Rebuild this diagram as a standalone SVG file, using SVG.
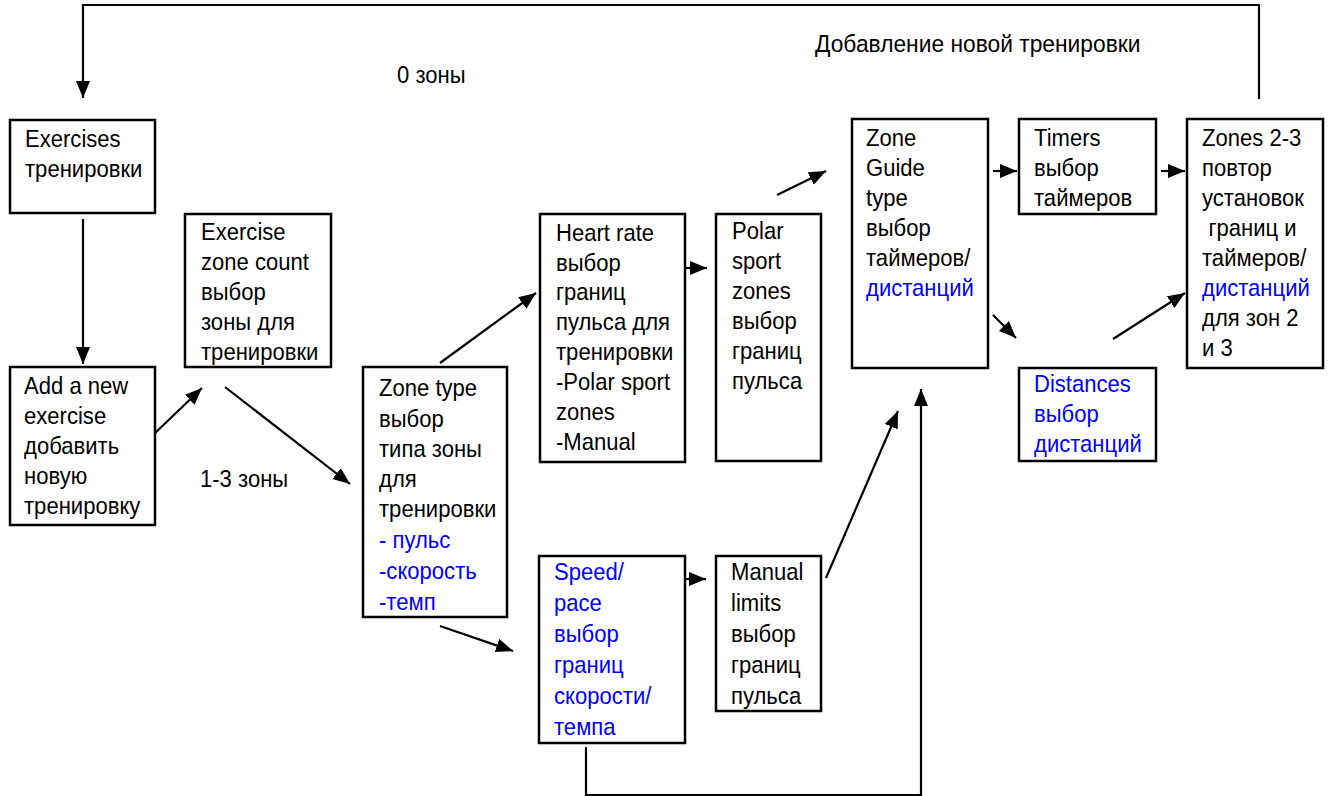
<svg xmlns="http://www.w3.org/2000/svg" width="1330" height="796" viewBox="0 0 1330 796">
<defs>
<marker id="ah" markerUnits="userSpaceOnUse" markerWidth="18" markerHeight="15" refX="17" refY="7" orient="auto">
<path d="M0,0 L17,7 L0,14 z" fill="#000"/>
</marker>
<style>
rect{fill:#fff;stroke:#000;stroke-width:2.5}
text{font-family:"Liberation Sans",Arial,sans-serif;font-size:24px;fill:#000}
.b{fill:#0000ff}
.c line,.c path{stroke:#000;stroke-width:2.2;fill:none}
.a{marker-end:url(#ah)}
</style>
</defs>
<rect x="0" y="0" width="1330" height="796" style="fill:#fff;stroke:none"/>
<g class="c" id="connectors">
<path class="a" d="M1259,99 V5 H83 V98"/>
<line class="a" x1="83" y1="219" x2="83" y2="364"/>
<line class="a" x1="153" y1="435" x2="202" y2="388"/>
<line class="a" x1="225" y1="387" x2="350" y2="484"/>
<line class="a" x1="440" y1="363" x2="536" y2="293"/>
<line class="a" x1="440" y1="626" x2="513" y2="651"/>
<line class="a" x1="681" y1="268" x2="707" y2="268"/>
<line class="a" x1="680" y1="579" x2="706" y2="579"/>
<line class="a" x1="777" y1="195" x2="826" y2="171"/>
<line class="a" x1="826" y1="578" x2="898" y2="411"/>
<path class="a" d="M586,747 V795 H921 V389"/>
<line class="a" x1="993" y1="171" x2="1017" y2="171"/>
<line class="a" x1="1161" y1="171" x2="1185" y2="171"/>
<line class="a" x1="993" y1="315" x2="1016" y2="338"/>
<line class="a" x1="1113" y1="339" x2="1185" y2="293"/>
</g>
<g id="labels">
<g transform="translate(815,0) scale(0.95,1)"><text x="0" y="52">Добавление новой тренировки</text></g>
<g transform="translate(397,0) scale(0.92,1)"><text x="0" y="83">0 зоны</text></g>
<g transform="translate(200,0) scale(0.92,1)"><text x="0" y="487">1-3 зоны</text></g>
</g>
<g id="n-exercises">
<rect x="10" y="120" width="145" height="93"/>
<g transform="translate(25,0) scale(0.92,1)">
<text x="0" y="147">Exercises</text>
<text x="0" y="177">тренировки</text>
</g>
</g>
<g id="n-add">
<rect x="10" y="367" width="145" height="158"/>
<g transform="translate(24,0) scale(0.92,1)">
<text x="0" y="394">Add a new</text>
<text x="0" y="424">exercise</text>
<text x="0" y="454">добавить</text>
<text x="0" y="484">новую</text>
<text x="0" y="514">тренировку</text>
</g>
</g>
<g id="n-zonecount">
<rect x="185" y="214" width="146" height="153"/>
<g transform="translate(201,0) scale(0.92,1)">
<text x="0" y="240">Exercise</text>
<text x="0" y="270">zone count</text>
<text x="0" y="300">выбор</text>
<text x="0" y="330">зоны для</text>
<text x="0" y="360">тренировки</text>
</g>
</g>
<g id="n-zonetype">
<rect x="363" y="367" width="144" height="250"/>
<g transform="translate(379,0) scale(0.92,1)">
<text x="0" y="396">Zone type</text>
<text x="0" y="427">выбор</text>
<text x="0" y="457">типа зоны</text>
<text x="0" y="487">для</text>
<text x="0" y="517">тренировки</text>
<text x="0" y="548" class="b">- пульс</text>
<text x="0" y="579" class="b">-скорость</text>
<text x="0" y="610" class="b">-темп</text>
</g>
</g>
<g id="n-heartrate">
<rect x="540" y="214" width="145" height="248"/>
<g transform="translate(556,0) scale(0.92,1)">
<text x="0" y="241">Heart rate</text>
<text x="0" y="271">выбор</text>
<text x="0" y="300">границ</text>
<text x="0" y="330">пульса для</text>
<text x="0" y="360">тренировки</text>
<text x="0" y="390">-Polar sport</text>
<text x="0" y="420">zones</text>
<text x="0" y="450">-Manual</text>
</g>
</g>
<g id="n-polar">
<rect x="716" y="214" width="105" height="247"/>
<g transform="translate(732,0) scale(0.92,1)">
<text x="0" y="239">Polar</text>
<text x="0" y="269">sport</text>
<text x="0" y="299">zones</text>
<text x="0" y="329">выбор</text>
<text x="0" y="359">границ</text>
<text x="0" y="389">пульса</text>
</g>
</g>
<g id="n-zoneguide">
<rect x="852" y="119" width="136" height="249"/>
<g transform="translate(866,0) scale(0.92,1)">
<text x="0" y="146">Zone</text>
<text x="0" y="176">Guide</text>
<text x="0" y="206">type</text>
<text x="0" y="236">выбор</text>
<text x="0" y="266">таймеров/</text>
<text x="0" y="296" class="b">дистанций</text>
</g>
</g>
<g id="n-timers">
<rect x="1019" y="119" width="137" height="95"/>
<g transform="translate(1034,0) scale(0.92,1)">
<text x="0" y="146">Timers</text>
<text x="0" y="176">выбор</text>
<text x="0" y="206">таймеров</text>
</g>
</g>
<g id="n-zones23">
<rect x="1187" y="119" width="136" height="249"/>
<g transform="translate(1202,0) scale(0.92,1)">
<text x="0" y="146">Zones 2-3</text>
<text x="0" y="176">повтор</text>
<text x="0" y="206">установок</text>
<text x="7" y="236">границ и</text>
<text x="0" y="266">таймеров/</text>
<text x="0" y="296" class="b">дистанций</text>
<text x="0" y="326">для зон 2</text>
<text x="0" y="356">и 3</text>
</g>
</g>
<g id="n-distances">
<rect x="1019" y="368" width="137" height="93"/>
<g transform="translate(1034,0) scale(0.92,1)">
<text x="0" y="392" class="b">Distances</text>
<text x="0" y="422" class="b">выбор</text>
<text x="0" y="452" class="b">дистанций</text>
</g>
</g>
<g id="n-speed">
<rect x="539" y="556" width="146" height="187"/>
<g transform="translate(554,0) scale(0.92,1)">
<text x="0" y="580" class="b">Speed/</text>
<text x="0" y="611" class="b">pace</text>
<text x="0" y="642" class="b">выбор</text>
<text x="0" y="673" class="b">границ</text>
<text x="0" y="704" class="b">скорости/</text>
<text x="0" y="735" class="b">темпа</text>
</g>
</g>
<g id="n-manual">
<rect x="716" y="556" width="105" height="155"/>
<g transform="translate(731,0) scale(0.92,1)">
<text x="0" y="580">Manual</text>
<text x="0" y="611">limits</text>
<text x="0" y="642">выбор</text>
<text x="0" y="673">границ</text>
<text x="0" y="704">пульса</text>
</g>
</g>
</svg>
